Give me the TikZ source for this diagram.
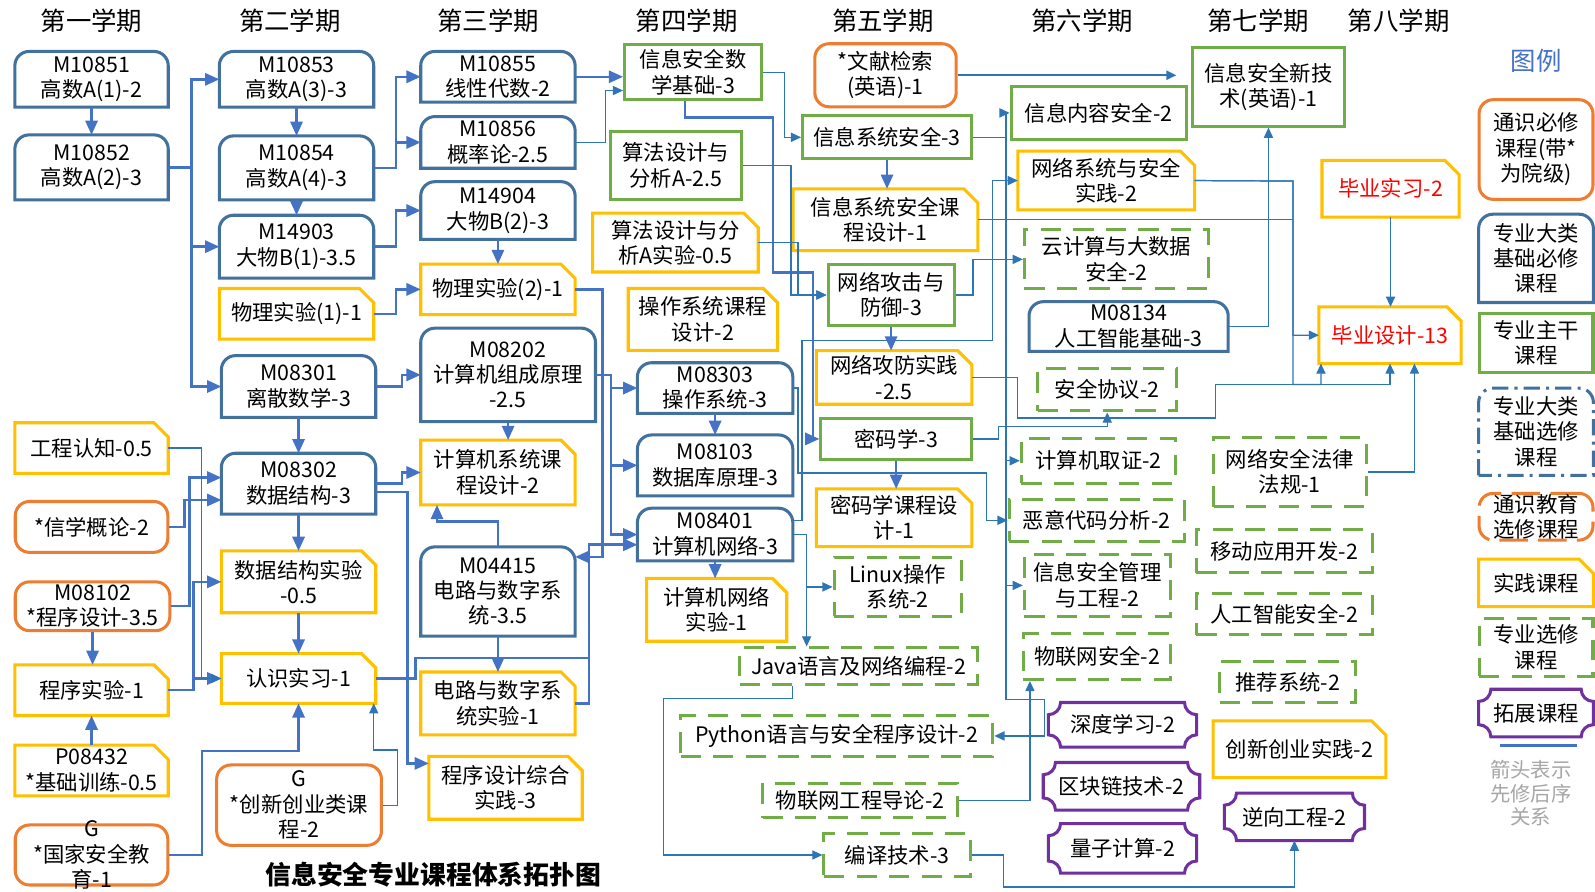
\documentclass[tikz,border=0pt]{standalone}
\usepackage{fontspec}
\setmainfont{Noto Sans CJK SC}
\usetikzlibrary{arrows.meta}
\usepackage{xcolor}

\definecolor{blueb}{RGB}{65,113,156}
\definecolor{orgc}{RGB}{237,125,49}
\definecolor{grnc}{RGB}{112,173,71}
\definecolor{ylwc}{RGB}{255,192,0}
\definecolor{purc}{RGB}{112,48,160}
\definecolor{lnc}{RGB}{68,114,196}
\definecolor{lnt}{RGB}{46,117,182}
\definecolor{grytxt}{RGB}{166,166,166}

\tikzset{
  term/.style={font=\fontsize{12.5}{14}\selectfont},
  box/.style={rectangle, inner sep=1pt, align=center, font=\fontsize{10.5}{12.5}\selectfont},
  wh/.style 2 args={minimum width=#1pt, minimum height=#2pt},
  tsbx/.style={box, draw=orgc, line width=1.5pt, rounded corners=7pt},
  tsxx/.style={tsbx, dash pattern=on 14pt off 5pt},
  zgkc/.style={box, draw=grnc, line width=1.5pt},
  zxkc/.style={zgkc, dash pattern=on 10pt off 6pt},
  jcbx/.style={box, append after command={\pgfextra{\draw[x=1pt,y=1pt,blueb,line width=1.5pt]
      (\tikzlastnode.south west) -- ([yshift=-7pt]\tikzlastnode.north west)
      arc[start angle=180,end angle=90,radius=7pt] -- ([xshift=-7pt]\tikzlastnode.north east)
      arc[start angle=90,end angle=0,radius=7pt] -- (\tikzlastnode.south east) -- cycle;}}},
  jcxx/.style={box, append after command={\pgfextra{\draw[x=1pt,y=1pt,blueb,line width=1.5pt,
      dash pattern=on 8pt off 3pt on 1.5pt off 3pt]
      (\tikzlastnode.south west) -- ([yshift=-7pt]\tikzlastnode.north west)
      arc[start angle=180,end angle=90,radius=7pt] -- ([xshift=-7pt]\tikzlastnode.north east)
      arc[start angle=90,end angle=0,radius=7pt] -- (\tikzlastnode.south east) -- cycle;}}},
  sjkc/.style={box, append after command={\pgfextra{\draw[x=1pt,y=1pt,ylwc,line width=1.5pt]
      (\tikzlastnode.south west) -- (\tikzlastnode.north west) -- ([xshift=-7pt]\tikzlastnode.north east)
      -- ([yshift=-7pt]\tikzlastnode.north east) -- (\tikzlastnode.south east) -- cycle;}}},
  tzkc/.style={box, append after command={\pgfextra{\draw[x=1pt,y=1pt,purc,line width=1.5pt]
      ([yshift=6pt]\tikzlastnode.south west) -- ([yshift=-6pt]\tikzlastnode.north west)
      arc[start angle=-90,end angle=0,radius=6pt] -- ([xshift=-6pt]\tikzlastnode.north east)
      arc[start angle=180,end angle=270,radius=6pt] -- ([yshift=6pt]\tikzlastnode.south east)
      arc[start angle=90,end angle=180,radius=6pt] -- ([xshift=6pt]\tikzlastnode.south west)
      arc[start angle=0,end angle=90,radius=6pt] -- cycle;}}},
  pre/.style={draw=lnc, line width=1.2pt, -{Triangle[length=7pt,width=6pt]}},
  prethin/.style={draw=lnt, line width=0.6pt, -{Triangle[length=5pt,width=4.5pt]}},
  bus/.style={draw=lnc, line width=1.2pt},
  busthin/.style={draw=lnt, line width=0.6pt}
}

\begin{document}
\begin{tikzpicture}[x=0.5pt,y=-0.5pt]

    \path[use as bounding box, fill=white] (0,0) rectangle (1568,876);

    \node[term] (s1) at (90,20) {第一学期};
    \node[term] (s2) at (285,20) {第二学期};
    \node[term] (s3) at (480,20) {第三学期};
    \node[term] (s4) at (675,20) {第四学期};
    \node[term] (s5) at (868,20) {第五学期};
    \node[term] (s6) at (1064,20) {第六学期};
    \node[term] (s7) at (1237,20) {第七学期};
    \node[term] (s8) at (1375,20) {第八学期};

    \node[jcbx, wh={75}{27}] (m851) at (90,78) {M10851\\高数A(1)-2};
    \node[jcbx, wh={75}{31.5}] (m852) at (90,164.5) {M10852\\高数A(2)-3};
    \node[sjkc, wh={75}{24.5}] (gcrz) at (90,440.5) {工程认知-0.5};
    \node[tsbx, wh={75}{25}] (xxgl) at (90,518) {*信学概论-2};
    \node[tsbx, wh={76}{24}, inner ysep=0pt] (m102) at (91,596) {M08102\\*程序设计-3.5};
    \node[sjkc, wh={75}{24.5}] (cxsy) at (90,678.5) {程序实验-1};
    \node[sjkc, wh={75}{24.5}, inner ysep=0pt] (p432) at (90,757.5) {P08432\\*基础训练-0.5};
    \node[tsbx, wh={75}{29.5}, inner ysep=-4pt] (gjaq) at (90,840.5) {G\\*国家安全教\\育-1};

    \node[jcbx, wh={75.5}{27}] (m853) at (291.5,78) {M10853\\高数A(3)-3};
    \node[jcbx, wh={75.5}{31}] (m854) at (291.5,165) {M10854\\高数A(4)-3};
    \node[jcbx, wh={75.5}{30.5}] (m903) at (291.5,242.5) {M14903\\大物B(1)-3.5};
    \node[sjkc, wh={75.5}{24.5}] (wlsy1) at (291.5,308.5) {物理实验(1)-1};
    \node[jcbx, wh={75.5}{30}] (m301) at (293.5,380) {M08301\\离散数学-3};
    \node[jcbx, wh={75.5}{29.5}] (m302) at (293.5,475.5) {M08302\\数据结构-3};
    \node[sjkc, wh={75.5}{30}] (sjsy) at (293.5,572) {数据结构实验\\-0.5};
    \node[sjkc, wh={75.5}{24}] (rzsx) at (293.5,667) {认识实习-1};
    \node[tsbx, wh={81}{39.5}] (cxcy) at (294,791.5) {G\\*创新创业类课\\程-2};

    \node[jcbx, wh={75.5}{24.5}, inner ysep=0pt] (m855) at (489.5,75.5) {M10855\\线性代数-2};
    \node[jcbx, wh={75.5}{25}, inner ysep=0pt] (m856) at (489.5,140) {M10856\\概率论-2.5};
    \node[jcbx, wh={75.5}{28}] (m904) at (489.5,207) {M14904\\大物B(2)-3};
    \node[sjkc, wh={75.5}{24.5}] (wlsy2) at (489.5,284.5) {物理实验(2)-1};
    \node[jcbx, wh={85.5}{45.5}] (m202) at (499.5,368.5) {M08202\\计算机组成原理\\-2.5};
    \node[sjkc, wh={75.5}{31.5}] (jsxt) at (489.5,464.5) {计算机系统课\\程设计-2};
    \node[jcbx, wh={75.5}{43.5}] (m415) at (489.5,581.5) {M04415\\电路与数字系\\统-3.5};
    \node[sjkc, wh={75.5}{30.5}] (dlsy) at (489.5,691.5) {电路与数字系\\统实验-1};
    \node[sjkc, wh={75}{30.5}] (cxzh) at (497,774.5) {程序设计综合\\实践-3};

    \node[font=\bfseries\fontsize{12.7}{15}\selectfont] (title) at (426,860) {信息安全专业课程体系拓扑图};

    \node[zgkc, wh={67.5}{27}] (xamath) at (681.5,71) {信息安全数\\学基础-3};
    \node[zgkc, wh={64.5}{33.5}] (sfsj) at (664.5,162.5) {算法设计与\\分析A-2.5};
    \node[sjkc, wh={81}{28.5}] (sfsy) at (664,238.5) {算法设计与分\\析A实验-0.5};
    \node[sjkc, wh={73}{30}] (czkc) at (691,314) {操作系统课程\\设计-2};
    \node[jcbx, wh={76}{24.5}, inner ysep=0pt] (m303) at (703,381.5) {M08303\\操作系统-3};
    \node[jcbx, wh={76}{29.5}] (m103) at (703,457.5) {M08103\\数据库原理-3};
    \node[jcbx, wh={76}{25.5}, inner ysep=0pt] (m401) at (703,525.5) {M08401\\计算机网络-3};
    \node[sjkc, wh={68.5}{30.5}] (jwsy) at (704.5,599.5) {计算机网络\\实验-1};
    \node[zxkc, wh={117}{18}] (java) at (844,655) {Java语言及网络编程-2};
    \node[zxkc, wh={153.5}{20.5}] (python) at (822.5,723.5) {Python语言与安全程序设计-2};
    \node[zxkc, wh={95.5}{17}] (wlwdl) at (845.5,787) {物联网工程导论-2};
    \node[zxkc, wh={72}{21.5}] (byjs) at (882,840.5) {编译技术-3};

    \node[tsbx, wh={69.5}{31}] (wxjs) at (870.5,74) {*文献检索\\(英语)-1};
    \node[zgkc, wh={83}{21}] (xxxt) at (872,135) {信息系统安全-3};
    \node[sjkc, wh={90.5}{30}] (xxkc) at (870.5,216) {信息系统安全课\\程设计-1};
    \node[zgkc, wh={62}{30}] (wlgj) at (876,290) {网络攻击与\\防御-3};
    \node[sjkc, wh={76}{26}] (wlgf) at (879,371) {网络攻防实践\\-2.5};
    \node[zgkc, wh={74}{20.5}] (mmx) at (881,431.5) {密码学-3};
    \node[sjkc, wh={76}{28}] (mmkc) at (879,509) {密码学课程设\\计-1};
    \node[zxkc, wh={62.5}{29}] (linux) at (882.5,577) {Linux操作\\系统-2};

    \node[zgkc, wh={86}{26}] (xxnr) at (1080,111) {信息内容安全-2};
    \node[zgkc, wh={75}{38.5}] (xxxjs) at (1247,85.5) {信息安全新技\\术(英语)-1};
    \node[sjkc, wh={86.5}{28.5}] (wlxt) at (1087.5,177.5) {网络系统与安全\\实践-2};
    \node[zxkc, wh={90.5}{29}] (yjs) at (1097.5,255) {云计算与大数据\\安全-2};
    \node[jcbx, wh={97.5}{24}, inner ysep=0pt] (m134) at (1109.5,321) {M08134\\人工智能基础-3};
    \node[sjkc, wh={67}{27.5}, text=red] (bysx) at (1367,185.5) {毕业实习-2};
    \node[sjkc, wh={69.5}{27.5}, text=red] (bysj) at (1366.5,329.5) {毕业设计-13};
    \node[zxkc, wh={68.5}{21}] (aqxy) at (1088.5,383) {安全协议-2};
    \node[zxkc, wh={76}{22}] (jsjqz) at (1080,453) {计算机取证-2};
    \node[zxkc, wh={75}{34}] (wlfl) at (1268,464) {网络安全法律\\法规-1};
    \node[zxkc, wh={86}{20.5}] (eyfx) at (1078,511.5) {恶意代码分析-2};
    \node[zxkc, wh={86.5}{21}] (ydkf) at (1262.5,542) {移动应用开发-2};
    \node[zxkc, wh={72}{30.5}] (xxgc) at (1079,575.5) {信息安全管理\\与工程-2};
    \node[zxkc, wh={86.5}{20.5}] (rgzn) at (1262.5,603.5) {人工智能安全-2};
    \node[zxkc, wh={72.5}{22.5}] (wlwaq) at (1078.5,645.5) {物联网安全-2};
    \node[zxkc, wh={67}{20.5}] (tjxt) at (1266,670.5) {推荐系统-2};
    \node[tzkc, wh={72.5}{21.5}] (sdxx) at (1103.5,712.5) {深度学习-2};
    \node[sjkc, wh={84.5}{27.5}] (cxsj) at (1277.5,736.5) {创新创业实践-2};
    \node[tzkc, wh={76.5}{23}] (qkl) at (1102.5,773) {区块链技术-2};
    \node[tzkc, wh={68.5}{23}] (nxgc) at (1272.5,803) {逆向工程-2};
    \node[tzkc, wh={72.5}{24}] (lzjs) at (1103.5,834) {量子计算-2};

    % legend
    \node[term, text=lnc] (lgt) at (1510,60) {图例};
    \node[tsbx, wh={56}{49}] (lg1) at (1510,147) {通识必修\\课程(带*\\为院级)};
    \node[jcbx, wh={56}{43}] (lg2) at (1510,254) {专业大类\\基础必修\\课程};
    \node[zgkc, wh={56}{29}] (lg3) at (1510,337) {专业主干\\课程};
    \node[jcxx, wh={56}{42.5}] (lg4) at (1510,424.5) {专业大类\\基础选修\\课程};
    \node[tsxx, wh={56}{23}, inner ysep=-2pt] (lg5) at (1510,508) {通识教育\\选修课程};
    \node[sjkc, wh={56}{23}] (lg6) at (1510,573) {实践课程};
    \node[zxkc, wh={56}{28.5}] (lg7) at (1510,636.5) {专业选修\\课程};
    \node[tzkc, wh={56}{23}] (lg8) at (1510,701) {拓展课程};
    \coordinate (lgl1) at (1475,733);
    \coordinate (lgl2) at (1550,733);
    \draw[bus] (lgl1) -- (lgl2);
    \node[box, text=grytxt, font=\fontsize{10}{11.5}\selectfont] (lgn) at (1505,780) {箭头表示\\先修后序\\关系};

    \coordinate (cb1) at (579,647);
    \coordinate (cd1) at (976,335);
    \coordinate (ce1) at (970,465);
    \coordinate (cf1) at (793,525.5);
    \coordinate (tg) at (989,135);
    \coordinate (cg1) at (1027,688);
    \coordinate (tb) at (1271,178);
    \coordinate (cj1) at (1271,378);
    \coordinate (ck1) at (1195,411);
    \coordinate (ck2) at (1195,378);
    \coordinate (cl1) at (1050,419);
    \coordinate (cs1) at (1100,872);
    \coordinate (cu1) at (652,700);
    \coordinate (cm1) at (760,268);
    \coordinate (cm2) at (799,268);

    \draw[pre] (m851) -- (m852);
    \draw[pre] (m852.east) -- ++(23,0) |- (m853);
    \draw[pre] (m852.east) -- ++(23,0) |- (m903);
    \draw[pre] (m852.east) -- ++(23,0) |- (m301);
    \draw[pre] (m853) -- (m854);
    \draw[pre] (m854) -- (m903);
    \draw[pre] (m854.east) -- ++(22,0) |- (m855);
    \draw[pre] (m854.east) -- ++(22,0) |- (m856);
    \draw[pre] (m903.east) -- ++(22,0) |- (m904);
    \draw[pre] (m904) -- (wlsy2);
    \draw[pre] (wlsy1.east) -- ++(22,0) |- (wlsy2);
    \draw[pre] (m855.east) -- (m855.east -| xamath.west);
    \draw[prethin] (m856.east) -- ++(30,0) |- ([yshift=-9pt]xamath.west);
    \draw[pre] (wlsy2.east) -- ++(27,0) |- ([yshift=17pt]m415.east);

    \draw[pre] (m301) -- (m302);
    \draw[pre] (m302) -- (sjsy);
    \draw[pre] (sjsy) -- (rzsx);
    \draw[pre] (m301.east) -- ++(26,0) |- (m202);
    \draw[pre] (m302.east) -- ++(26,0) |- (jsxt);
    \draw[pre] ([yshift=-4pt]m302.east) -- ++(31,0) |- ([yshift=12pt]cxzh.west);
    \draw[pre] (m202.south) -- (m202.south |- jsxt.north);
    \draw[pre] (m202.east) -- ++(15,0) |- (m303);
    \draw[pre] (m202.east) -- ++(15,0) |- (m103);
    \draw[pre] (m202.east) -- ++(15,0) |- (m401);
    \draw[pre] (m415) -- (dlsy);
    \draw[pre] (m415.north) -- ++(0,-25) -| ([xshift=8pt]jsxt.south west);
    \draw[pre] (rzsx.east) -- ++(39,0) |- (cb1) |- ([yshift=-5pt]m401.west);
    \draw[bus] (dlsy.east) -| (cb1);
    \draw[pre] (m303) -- (m103);
    \draw[pre] (m401.south) -- (m401.south |- jwsy.north);

    \draw[pre] (m102.south) -- (m102.south |- cxsy.north);
    \draw[pre] (p432) -- (cxsy);
    \draw[pre] (cxsy.east) -- ++(25,0) |- (rzsx);
    \draw[pre] (cxsy.east) -- ++(25,0) |- (sjsy);
    \draw[pre] (xxgl.east) -- ++(15,0) |- ([yshift=-8pt]m302.west);
    \draw[pre] (m102.east) -- ++(18,0) |- ([yshift=3pt]m302.west);
    \draw[prethin] (gcrz.east) -- ++(33,0) |- (rzsx);
    \draw[pre] (gjaq.east) -- ++(32,0) |- ([yshift=-23.5pt]rzsx.south) -- (rzsx.south);
    \draw[prethin] (cxcy.east) -- ++(14,0) |- ([xshift=-1pt,yshift=-23pt]rzsx.south east) -- ([xshift=-1pt]rzsx.south east);

    \draw[pre] ([xshift=-4pt]xamath.south) -- ++(0,16) -| (cm1) -- (cm2) |- (mmx);
    \draw[prethin] (xamath.east) -- ++(21,0) |- (xxxt);
    \draw[prethin] (sfsj.east) -- ++(47,0) |- (wlgj);
    \draw[prethin] (sfsy.east) -- ++(39,0) |- (wlgj);
    \draw[prethin] (m303.east) -- ++(5,0) |- (ce1) |- (eyfx);
    \draw[prethin] ([yshift=7pt]m401.east) -- ++(9,0) |- (cd1) |- (wlxt);
    \draw[prethin] (m401.east) -- (cf1) |- (linux);
    \draw[prethin] (m401.east) -- (cf1) -- (cf1 |- java.north);
    \draw[prethin] ([xshift=-32.5pt]java.south) -- ++(0,12) -| (cu1) |- (byjs);

    \draw[pre] (xxxt.south) -- (xxxt.south |- xxkc.north);
    \draw[pre] (wlgj.south) -- (wlgj.south |- wlgf.north);
    \draw[pre] (mmx.south) -- (mmx.south |- mmkc.north);
    \draw[prethin, line width=1pt, shorten >=7pt] (wxjs.east) -- (wxjs.east -| xxxjs.west);
    \draw[prethin] (xxxt.east) -- (tg) |- (xxnr);
    \draw[prethin] (xxxt.east) -- (tg) |- (jsjqz);
    \draw[prethin] (xxxt.east) -- (tg) |- (xxgc);
    \draw[prethin] (xxxt.east) -- (tg) |- (cg1) |- (python);
    \draw[prethin] (wlgj.east) -- ++(17,0) |- (yjs);
    \draw[busthin] (xxkc.east) -- (xxkc.east -| tb);
    \draw[prethin] (wlxt.east) -- (tb) |- (bysj);
    \draw[prethin] (wlxt.east) -- (tb) -- (cj1) -| ([xshift=1pt]bysj.south west);
    \draw[prethin] (wlgf.east) -- ++(45,0) |- (ck1) -- (ck2) -| (bysj.south);
    \draw[prethin] (mmx.east) -- ++(25,0) |- (cl1) -| (aqxy.south);
    \draw[prethin] (wlfl.east) -| ([xshift=12pt]bysj.south);
    \draw[prethin] (bysx.south) -- (bysx.south |- bysj.north);
    \draw[prethin] (m134.east) -| (xxxjs);
    \draw[prethin] (wlwdl.east) -| ([xshift=-33pt]wlwaq.south);
    \draw[prethin] (byjs.east) -- ++(31,0) |- (cs1) -| (nxgc.south);

\end{tikzpicture}
\end{document}
